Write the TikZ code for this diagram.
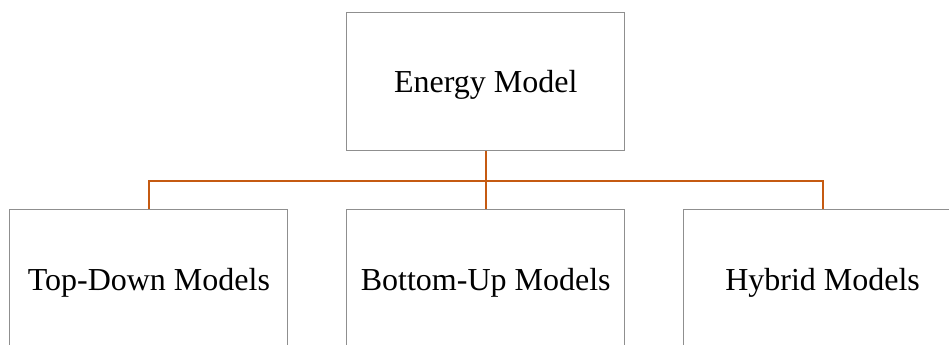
\documentclass[tikz,border=0pt]{standalone}
\usepackage{fontspec}
\setmainfont{Liberation Serif}
\usepackage{xcolor}
\usetikzlibrary{positioning}
\definecolor{boxline}{HTML}{8F8F8F}
\definecolor{branch}{HTML}{C55A11}
\tikzset{
  modelbox/.style={draw=boxline,line width=0.75pt,fill=white,align=center,
    minimum width=208.5pt,minimum height=103.7pt,text depth=0pt,
    font=\fontsize{24pt}{28pt}\selectfont},
  treeline/.style={draw=branch,line width=1.5pt}
}
\begin{document}
\begin{tikzpicture}[node distance=43.4pt]
\useasboundingbox (0,0) rectangle (711.75pt,-258.75pt);
\clip (0,0) rectangle (711.75pt,-258.75pt);
\node[modelbox] (energy) at (364.3pt,-61.4pt) {Energy Model};
\node[modelbox,below=of energy] (bottomup) {Bottom-Up Models};
\node[modelbox,left=of bottomup] (topdown) {Top-Down Models};
\node[modelbox,right=of bottomup] (hybrid) {Hybrid Models};
\coordinate[below=22pt of energy.south] (bus);
\draw[treeline] (energy.south) -- (bus) -| (topdown.north);
\draw[treeline] (bus) -| (hybrid.north);
\draw[treeline] (bus) -- (bottomup.north);
\end{tikzpicture}
\end{document}
